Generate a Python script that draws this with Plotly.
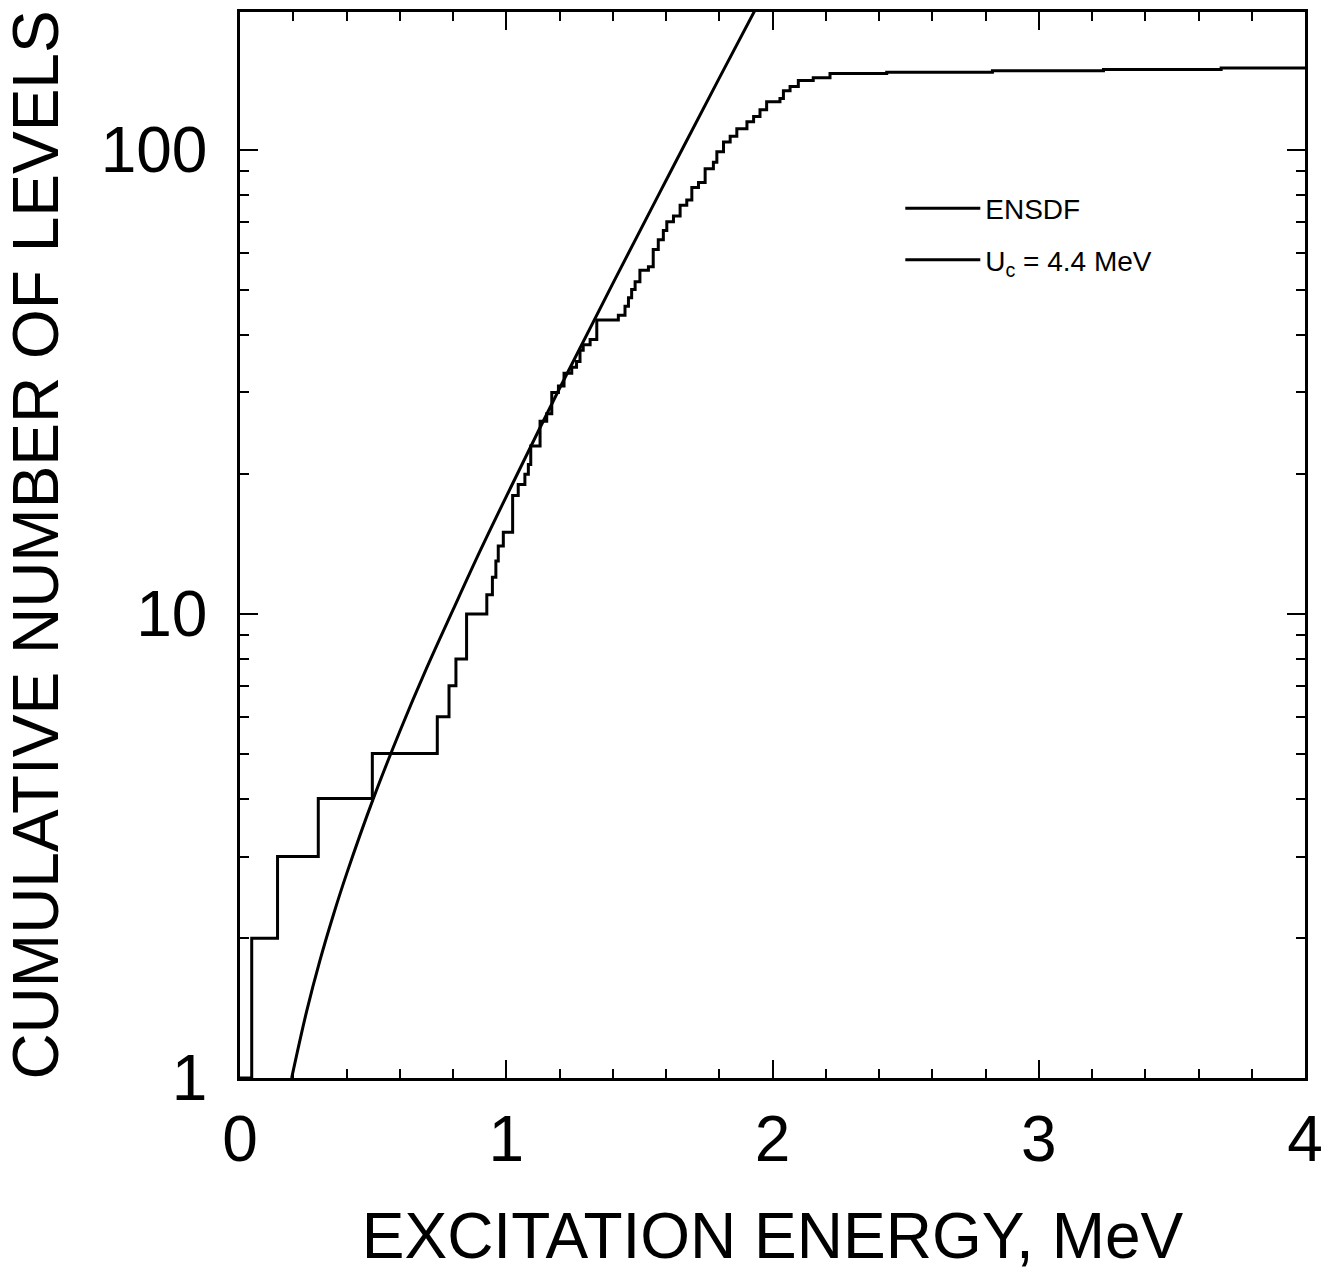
import plotly.graph_objects as go

# ENSDF cumulative level counts (energy in MeV where count reaches value)
ensdf_energy = [0.0, 0.044, 0.141, 0.294, 0.497, 0.741, 0.785, 0.811, 0.851, 0.927,
                0.948, 0.961, 0.970, 0.989, 1.024, 1.045, 1.070, 1.083, 1.092, 1.127,
                1.152, 1.171, 1.196, 1.217, 1.246, 1.264, 1.277, 1.289, 1.315, 1.340,
                1.421, 1.446, 1.459, 1.471, 1.484, 1.502, 1.534, 1.552, 1.571, 1.590,
                1.603, 1.628, 1.653, 1.678, 1.697, 1.722, 1.747, 1.778, 1.791, 1.816,
                1.841, 1.866, 1.904, 1.929, 1.953, 1.978, 2.028, 2.041, 2.066, 2.097,
                2.153, 2.216, 2.429, 2.826, 3.243, 3.685, 4.0]
ensdf_count = [1, 2, 3, 4, 5, 6, 7, 8, 10, 11,
               12, 13, 14, 15, 18, 19, 20, 21, 23, 26,
               27, 30, 31, 33, 34, 35, 37, 38, 39, 43,
               44, 46, 48, 50, 52, 55, 56, 61, 64, 67,
               70, 72, 76, 78, 83, 85, 91, 94, 99, 104,
               107, 111, 115, 118, 122, 127, 129, 134, 137, 141,
               143, 146, 147, 148, 149, 150, 150]

# Constant-temperature curve (Uc = 4.4 MeV)
ct_energy = [0.194, 0.25, 0.30, 0.35, 0.40, 0.50, 0.60, 0.70, 0.80, 0.90,
             1.00, 1.20, 1.40, 1.60, 1.80, 1.95]
ct_count = [1.0, 1.39, 1.79, 2.24, 2.75, 3.99, 5.58, 7.62, 10.2, 13.6,
            17.9, 30.6, 51.5, 85.9, 142.7, 208.0]

x_ticks = [0, 1, 2, 3, 4]
y_ticks = [1, 10, 100]
y_ticktext = ["1", "10", "100"]
y_minor = [2, 3, 4, 5, 6, 7, 8, 9, 20, 30, 40, 50, 60, 70, 80, 90, 200]

FONT = "Liberation Sans, Arial, sans-serif"

fig = go.Figure()
fig.add_trace(go.Scatter(x=ensdf_energy, y=ensdf_count, mode="lines",
                         line=dict(color="black", width=3, shape="hv"),
                         name="ENSDF", legendgroup="a"))
fig.add_trace(go.Scatter(x=ct_energy, y=ct_count, mode="lines",
                         line=dict(color="black", width=3, shape="spline", smoothing=1.0),
                         name="U<sub>c</sub> = 4.4 MeV", legendgroup="b"))

axis_common = dict(showline=True, linecolor="black", linewidth=2.5, mirror="ticks",
                   ticks="inside", tickcolor="black", tickwidth=1.5, ticklen=18,
                   showgrid=False, zeroline=False, automargin=False,
                   tickfont=dict(family=FONT, size=64, color="black"))

fig.update_xaxes(range=[0, 4], tickvals=x_ticks, ticklabelstandoff=3,
                 minor=dict(dtick=0.2, ticks="inside", ticklen=9, tickcolor="black", tickwidth=1.5),
                 title=dict(text="EXCITATION ENERGY, MeV", font=dict(family=FONT, size=64, color="black"),
                            standoff=40),
                 **axis_common)
fig.update_yaxes(type="log", range=[0, 2.297], tickvals=y_ticks, ticktext=y_ticktext,
                 ticklabelstandoff=17,
                 minor=dict(tickvals=y_minor, ticks="inside", ticklen=9, tickcolor="black", tickwidth=1.5),
                 title=dict(text="CUMULATIVE NUMBER OF LEVELS", font=dict(family=FONT, size=64, color="black"),
                            standoff=40),
                 **axis_common)

fig.update_layout(width=1340, height=1276,
                  margin=dict(l=240, r=35, t=12, b=198),
                  paper_bgcolor="white", plot_bgcolor="white",
                  showlegend=True,
                  legend=dict(x=0.62, y=0.839, xanchor="left", yanchor="top",
                              font=dict(family=FONT, size=28, color="black"),
                              bgcolor="rgba(0,0,0,0)", tracegroupgap=12, itemwidth=75))

fig.write_html("out.html")
